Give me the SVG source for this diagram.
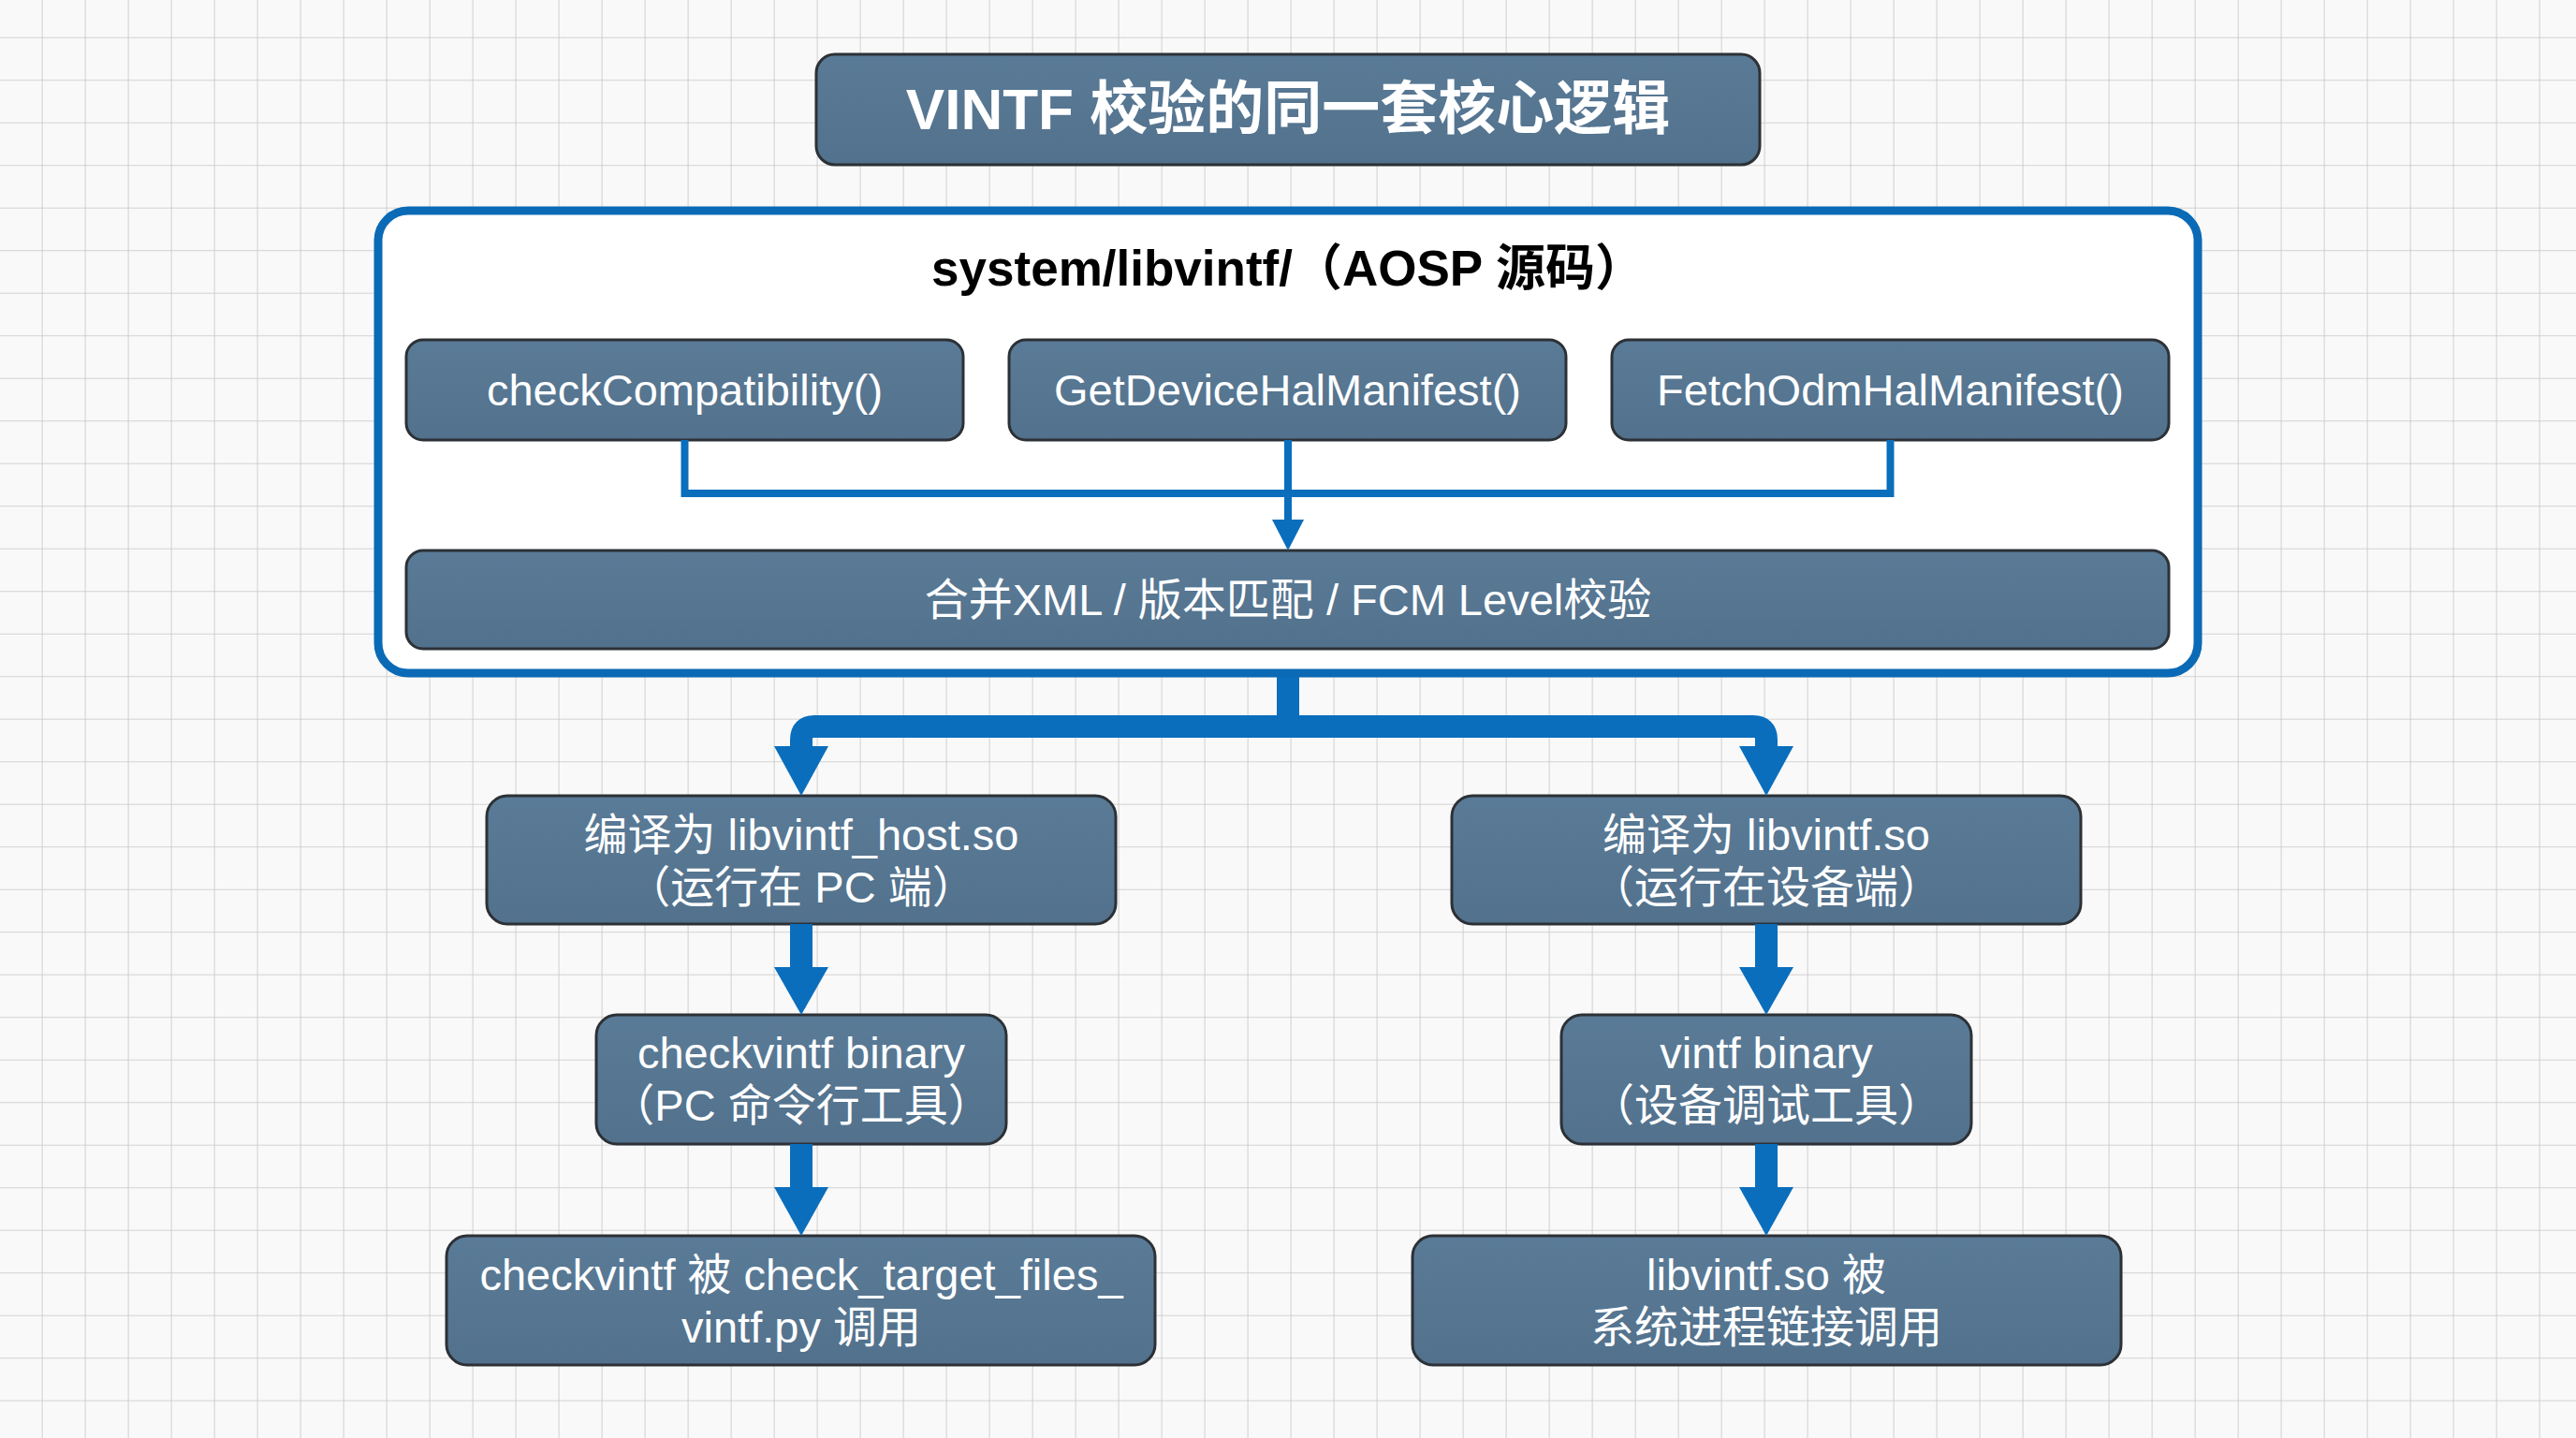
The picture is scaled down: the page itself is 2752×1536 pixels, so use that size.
<svg xmlns="http://www.w3.org/2000/svg" width="2752" height="1536" viewBox="0 0 2752 1536">
<defs>
<pattern id="grid" x="-0.4" y="-4.8" width="46" height="45.5" patternUnits="userSpaceOnUse">
<path d="M46 0V45.5M0 45.5H46" fill="none" stroke="#c6c6c6" stroke-width="1.6"/>
</pattern>
<linearGradient id="nodeFill" x1="0" y1="0" x2="0" y2="1">
<stop offset="0" stop-color="#5a7b97"/>
<stop offset="1" stop-color="#52718c"/>
</linearGradient>
<style>
.node rect{fill:url(#nodeFill);stroke:#2c3136;stroke-width:3}
.lbl{font-family:"Liberation Sans","Noto Sans CJK SC",sans-serif;font-size:47px;fill:#ffffff;text-anchor:middle}
.title{font-family:"Liberation Sans","Noto Sans CJK SC",sans-serif;font-size:62px;font-weight:bold;fill:#ffffff;text-anchor:middle}
.ctitle{font-family:"Liberation Sans","Noto Sans CJK SC",sans-serif;font-size:53px;font-weight:bold;fill:#000000;text-anchor:middle}
.thin{fill:none;stroke:#0a6ebd;stroke-width:8}
.thick{fill:none;stroke:#0a6ebd;stroke-width:24}
.head{fill:#0a6ebd}
</style>
</defs>
<rect width="2752" height="1536" fill="#f9f9f9"/>
<rect width="2752" height="1536" fill="url(#grid)"/>

<g id="title" class="node">
<rect x="872" y="58" width="1008" height="118" rx="20"/>
<text class="title" x="1376" y="138">VINTF 校验的同一套核心逻辑</text>
</g>

<g id="container">
<rect x="404" y="225" width="1944" height="494" rx="32" fill="#ffffff" stroke="#0b6ab5" stroke-width="9"/>
<text class="ctitle" x="1376" y="305">system/libvintf/（AOSP 源码）</text>
</g>

<g id="checkCompatibility" class="node">
<rect x="434" y="363" width="595" height="107" rx="18"/>
<text class="lbl" x="731.5" y="433">checkCompatibility()</text>
</g>
<g id="getDeviceHalManifest" class="node">
<rect x="1078" y="363" width="595" height="107" rx="18"/>
<text class="lbl" x="1375.5" y="433">GetDeviceHalManifest()</text>
</g>
<g id="fetchOdmHalManifest" class="node">
<rect x="1722" y="363" width="595" height="107" rx="18"/>
<text class="lbl" x="2019.5" y="433">FetchOdmHalManifest()</text>
</g>

<g id="merge" class="node">
<rect x="434" y="588" width="1883" height="105" rx="18"/>
<text class="lbl" x="1376" y="657">合并XML / 版本匹配 / FCM Level校验</text>
</g>

<g id="hostLib" class="node">
<rect x="520" y="850" width="672" height="137" rx="22"/>
<text class="lbl" x="856" y="908">编译为 libvintf_host.so</text>
<text class="lbl" x="856" y="964">（运行在 PC 端）</text>
</g>
<g id="checkvintf" class="node">
<rect x="637" y="1084" width="438" height="138" rx="22"/>
<text class="lbl" x="856" y="1141">checkvintf binary</text>
<text class="lbl" x="856" y="1197">（PC 命令行工具）</text>
</g>
<g id="checkTargetFiles" class="node">
<rect x="477" y="1320" width="757" height="138" rx="22"/>
<text class="lbl" x="856" y="1378">checkvintf 被 check_target_files_</text>
<text class="lbl" x="856" y="1434">vintf.py 调用</text>
</g>

<g id="deviceLib" class="node">
<rect x="1551" y="850" width="672" height="137" rx="22"/>
<text class="lbl" x="1887" y="908">编译为 libvintf.so</text>
<text class="lbl" x="1887" y="964">（运行在设备端）</text>
</g>
<g id="vintfBinary" class="node">
<rect x="1668" y="1084" width="438" height="138" rx="22"/>
<text class="lbl" x="1887" y="1141">vintf binary</text>
<text class="lbl" x="1887" y="1197">（设备调试工具）</text>
</g>
<g id="systemLink" class="node">
<rect x="1509" y="1320" width="757" height="138" rx="22"/>
<text class="lbl" x="1887" y="1378">libvintf.so 被</text>
<text class="lbl" x="1887" y="1434">系统进程链接调用</text>
</g>

<g id="connectors">
<path class="thin" d="M731.5 470V527H2019.5V470M1376 470V558"/>
<polygon class="head" points="1359,555 1393,555 1376,588"/>
<path class="thick" d="M1376 723V776M856 800V790Q856 776 870 776H1873Q1887 776 1887 790V800"/>
<polygon class="head" points="827,797 885,797 856,850"/>
<polygon class="head" points="1858,797 1916,797 1887,850"/>
<path class="thick" d="M856 987V1036M1887 987V1036"/>
<polygon class="head" points="827,1033 885,1033 856,1084"/>
<polygon class="head" points="1858,1033 1916,1033 1887,1084"/>
<path class="thick" d="M856 1222V1271M1887 1222V1271"/>
<polygon class="head" points="827,1268 885,1268 856,1320"/>
<polygon class="head" points="1858,1268 1916,1268 1887,1320"/>
</g>
</svg>
